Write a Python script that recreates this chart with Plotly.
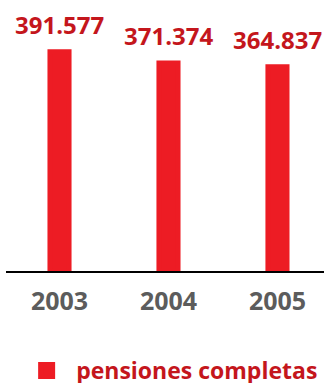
import plotly.graph_objects as go

# ---- data ----
years = ["2003", "2004", "2005"]
pensiones = [391577, 371374, 364837]
serie = "pensiones completas"


def fmt(v):
    return f"{v:,}".replace(",", ".")


BAR = "#ed1c24"
LABEL = "#c4161c"
GREY = "#5c5c5c"
FONT = "Open Sans"

fig = go.Figure()
fig.add_trace(go.Bar(
    x=years, y=pensiones, name=serie, width=0.175,
    marker=dict(color=BAR, line=dict(color=BAR, width=5)),
    showlegend=True, hoverinfo="skip",
))

for i, v in enumerate(pensiones):
    fig.add_annotation(
        x=i, y=v, text=fmt(v), showarrow=False, yanchor="bottom", yshift=9,
        font=dict(family=FONT, size=24, color=LABEL, weight="bold"),
    )

fig.update_layout(
    width=324, height=383,
    margin=dict(l=6, r=0, t=0, b=112, pad=0, autoexpand=False),
    plot_bgcolor="white", paper_bgcolor="white",
    showlegend=True,
    legend=dict(
        x=0.035, y=-0.288, xanchor="left", yanchor="top",
        itemwidth=49,
        font=dict(family=FONT, size=23, color=LABEL, weight="bold"),
        bgcolor="rgba(0,0,0,0)", borderwidth=0,
    ),
    xaxis=dict(
        type="category", range=[-0.491, 2.427],
        showline=True, linecolor="black", linewidth=2,
        ticks="", showgrid=False, zeroline=False,
        tickfont=dict(family=FONT, size=25, color=GREY, weight="bold"),
        ticklabelstandoff=7,
    ),
    yaxis=dict(visible=False, range=[0, 484000], fixedrange=True),
)

fig.write_html(
    "out.html",
    config={"displayModeBar": False, "staticPlot": True},
    post_script="document.body.style.margin='0';document.body.style.padding='0';",
)
